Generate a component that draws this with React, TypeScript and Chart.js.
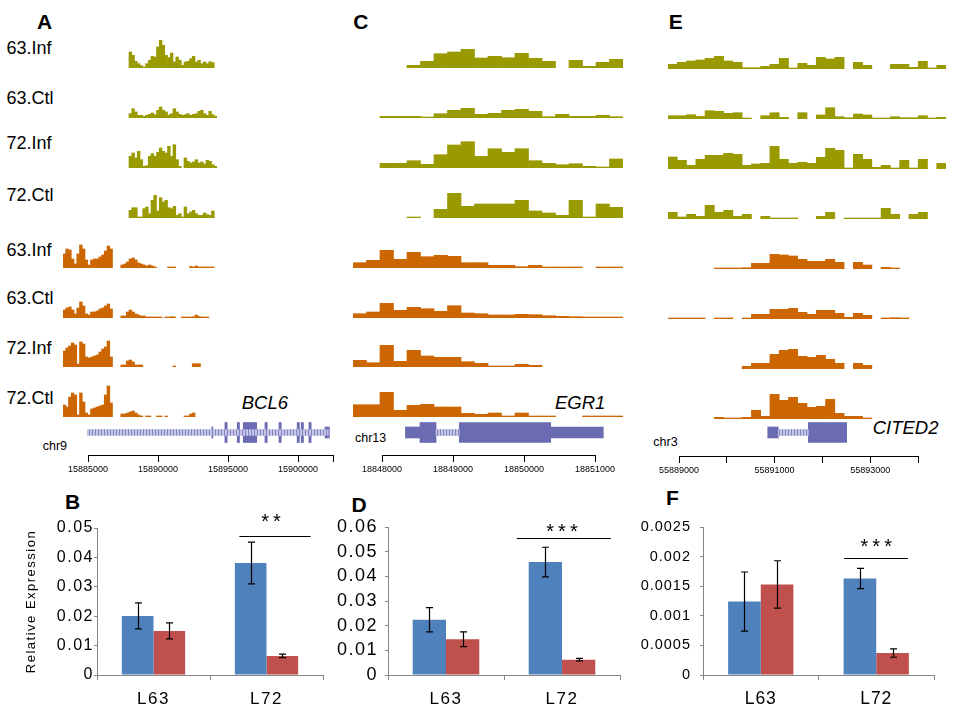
import React, { useEffect, useRef } from 'react';
import { Chart, registerables } from 'chart.js';

Chart.register(...registerables);

const FONT = "'Liberation Sans', Arial, Helvetica, sans-serif";
Chart.defaults.font.family = FONT;
Chart.defaults.color = '#000';

const N = null;

// ---------------- track data (coverage) ----------------
const trackLabels = ['63.Inf', '63.Ctl', '72.Inf', '72.Ctl', '63.Inf', '63.Ctl', '72.Inf', '72.Ctl'];

// Panel A (BCL6), 56 bins
const covA1 = [N,N,N,N,N,N,N,N,N,N,N,N,N,N,N,N,N,N,N,N,N,N,N,N, 16,12.7,6.7,4.3,2.3,1,4.3,7.7,11.7,11,21,27.7,22.7,12.7,10.3,15,6,11,7.7,2.7,6,6.7,9.3,11.7,6,7.7,4.3,6,4.3,6.3,5.3, N];
const covA2 = [N,N,N,N,N,N,N,N,N,N,N,N,N,N,N,N,N,N,N,N,N,N,N,N, 4.3,9.3,6,2.7,2.7,1.7,2.7,3.7,5,3.3,7.7,11,7.7,6,3,4.3,9.3,6,3.7,2.7,3.3,4.3,2.7,3.7,4.3,6.7,7.7,4.3,2.7,6.7,3.3,1.7];
const covA3 = [N,N,N,N,N,N,N,N,N,N,N,N,N,N,N,N,N,N,N,N,N,N,N,N, 11.7,15,10,16.7,8.3,1.7,2.3,11.7,14.3,11.7,15.7,20,16.7,15,21.7,11.7,23.3,8.3,1.7,N,10,6.7,5,6,8.3,5,6,4,7.7,6.7,3.3,1.7];
const covA4 = [N,N,N,N,N,N,N,N,N,N,N,N,N,N,N,N,N,N,N,N,N,N,N,N, 7.7,10.3,10.3,1,1,9.3,11,4.3,17.7,22.7,7,20.3,16,17.7,10.3,9.3,11.7,2.7,4.3,1,11,4.3,6,7.7,4.3,2.7,2.7,5,3.3,2.7,7, N];
const covA5 = [14,19,18,9,4,14,23,19,8,3,8,9,9,11,13,17,22,19, N,N,N, 3,4,6,9,10,8,5,4,3,2,3,2,1, N,N,N,N, 1,1,1, N,N,N,N,N, 1.5,1,2,1,0.7,0.7,0.7,0.7,0.7, N];
const covA6 = [8,10,11,8,4,10,16,12,4,3,6,6,7,9,10,12,14,9, N,N,N, 2,2,6,8,6,4,3,2,2,1,1,1,1, 0.7,0.7,N,0.7,1,1.3,0.7,N,N,0.7,0.7,1,1,1.3,3,1.5,0.7,1,0.5, N,N,N];
const covA7 = [16,19,21,24,22,3,25,23,10,9,10,11,12,15,18,20,26,10, N,N,N, 2,2,6,7,5,2,2,2, N,N,N,N,N,N,N,N,N,N,N, 1, N,N,N,N,N,N, 3.3,3.3,3.3, N,N,N,N,N,N];
const covA8 = [12,10,20,24,22,2,24,15,4,2,8,9,10,11,12,22,31,14, N,N,N, 3,3,4,5,6,4,2,1, N,0.7,0.7,N,N,0.7,0.7,N,0.7, N,N,N,N,N,N, 0.7,1,3,4, N,N,N,N,N,N,N,N];

// Panel C (EGR1), 20 bins
const covC1 = [N,N,N,N,2.7,6.7,14.3,16,18.7,10,11.7,10.3,14.7,9.7,6.7,N,7.7,1.7,5.7,8.7];
const covC2 = [N,N,1.7,1.7,1.7,0.7,4.3,7.7,9.7,3.7,4.7,7.7,8.7,6.7,1.3,3.7,1.7,1.7,2.7,1.3];
const covC3 = [N,N,4.7,4.7,7.3,3.7,13.3,23,26.3,11.7,19.3,15.7,19.3,7.3,4.7,3.3,4.3,1.7,0.3,9];
const covC4 = [N,N,N,N,0.7,N,8.7,24.7,11.7,14,14,14,17.7,7,5,2.7,17.7,1,14,10.7];
const covC5 = [5.3,7.7,17.7,8.7,15.7,11.3,12.7,11.7,5.3,5.3,2.7,2.7,1.3,2.7,0.3,0.3,0.3,N,0.7,0.7];
const covC6 = [4.3,6,14.7,7.7,10.7,9.3,6.7,12.3,5,4.3,3,3,3.7,3.3,2.3,1.7,1.3,0.7,0.3,0.3];
const covC7 = [6.7,4.3,21.7,5.7,16.7,11,9.7,9.7,5.3,3.7,1,1,2.7,1.7,N,N,N,N,N,N];
const covC8 = [12.3,12.3,24.7,6.7,11.7,12.7,10,10,3.7,2.7,4,1,4,1,0.7,N,N,0.7,0.7,0.7];

// Panel E (CITED2), 30 bins
const covE1 = [4.7,6.7,8,9,10.7,12.7,8,6.7,1.3,1.3,2.7,4.7,10.7,0.3,5.7,3.7,11.7,10,11.7,N,6.7,3.7,N,N,4.7,4.7,1.7,7.7,0.7,3.7];
const covE2 = [3.3,3.3,4.3,2.7,8.3,7.7,5.7,6.3,0.7,N,3.3,6.3,1.7,N,6.3,N,4,11.3,2.3,1.3,5,4,0.7,0.7,2.3,1.3,1.3,3.3,0.7,1.7];
const covE3 = [12,8.7,3.7,9.7,13.7,13.7,15.7,14.7,3.7,5,5.7,22.7,9.7,5.7,6.7,5.7,11.7,20.7,18.7,0.3,14.7,9.7,1.7,3.7,0.3,8.7,0.3,9.7,N,5.7];
const covE4 = [6.7,2,4.7,2.7,13.7,6.7,8.7,2.7,4.7,N,2.7,0.3,0.3,0.3,N,N,2.7,6.7,N,0.3,0.3,0.3,0.3,10.7,4.7,N,4.7,6.7,N,N];
const covE5 = [N,N,N,N,N,0.7,0.7,0.7,1.3,5.7,5.7,14.7,14,13,9.7,7.7,7.7,9.7,6.7,N,6.7,4,N,1.7,0.7,N,N,N,N,N];
const covE6 = [0.7,0.7,0.7,0.7,N,0.7,0.7,N,1,4.7,4.7,9.7,9.7,10.7,6.7,4.7,8.7,8.7,5.7,1.7,5.7,3.7,N,0.7,1.3,0.7,N,N,N,N];
const covE7 = [N,N,N,N,N,N,N,N,2.7,5.7,5.7,14.7,18.7,19.7,12.7,11.7,13.7,9.7,5.7,N,5.7,3.7,N,N,N,N,N,N,N,N];
const covE8 = [N,N,N,N,N,1.7,0.7,0.7,1.7,8.7,2.7,24.7,18.7,21.7,15.7,11.7,12.7,19.7,5.7,2.7,2.7,0.7,N,N,N,N,N,N,N,N];

// ---------------- gene models (genomic coordinates) ----------------
const geneA_intron = [[15884950, 15902160]];
const geneA_utr = [[15893840, 15893920], [15901930, 15902240]];
const geneA_cds = [[15894780, 15894940], [15895660, 15895820], [15896090, 15897050], [15897640, 15897800], [15898640, 15898800], [15899940, 15900100], [15900230, 15900390], [15900780, 15900940]];
const geneC_intron = [[18848761, 18849089]];
const geneC_utr = [[18848330, 18848535], [18850376, 18851117]];
const geneC_cds = [[18848535, 18848761], [18849089, 18850376]];
const geneE_intron = [[55891077, 55891705]];
const geneE_utr = [[55890856, 55891077]];
const geneE_cds = [[55891705, 55892508]];

// ---------------- genomic axes ----------------
const ticksA = [15885000, 15890000, 15895000, 15900000, 15902500];
const labelsA = [15885000, 15890000, 15895000, 15900000];
const ticksC = [18848000, 18849000, 18850000, 18851000];
const labelsC = [18848000, 18849000, 18850000, 18851000];
const ticksE = [55889000, 55890000, 55891000, 55892000, 55893000, 55894000];
const labelsE = [55889000, 55891000, 55893000];

// ---------------- qPCR bar data ----------------
const groups = ['L63', 'L72'];
const bInf = [0.0201, 0.0381];
const bInfErr = [0.0044, 0.0071];
const bCtl = [0.015, 0.0065];
const bCtlErr = [0.0027, 0.0006];
const dInf = [0.0224, 0.0458];
const dInfErr = [0.0049, 0.006];
const dCtl = [0.0145, 0.0062];
const dCtlErr = [0.003, 0.0005];
const fInf = [0.00124, 0.00163];
const fInfErr = [0.0005, 0.00017];
const fCtl = [0.00153, 0.00037];
const fCtlErr = [0.0004, 0.00007];
const sigB = { from: 0.76, to: 1.39, level: 0.0473, textAt: 1.04, textLevel: 0.0534, mark: '**' };
const sigD = { from: 0.61, to: 1.42, level: 0.0555, textAt: 1.0, textLevel: 0.0596, mark: '***' };
const sigF = { from: 0.72, to: 1.275, level: 0.00198, textAt: 1.0, textLevel: 0.00223, mark: '***' };

// ---------------- styles ----------------
const OLIVE = '#999900';
const ORANGE = '#cc6600';
const GENE = '#6b6bb3';
const BLUE = '#4f81bd';
const RED = '#c0504d';
const AXIS_GRAY = '#868686';
const TRACK_MAX = 50;

const spacingPlugin = {
  id: 'spacing',
  beforeUpdate(chart: any, _a: any, opts: any) { (chart.ctx as any).letterSpacing = (opts.px || 0) + 'px'; },
  beforeDraw(chart: any, _a: any, opts: any) { (chart.ctx as any).letterSpacing = (opts.px || 0) + 'px'; },
};

const errorBarPlugin = {
  id: 'errbars',
  afterDatasetsDraw(chart: any, _a: any, opts: any) {
    const { ctx } = chart;
    const ys = chart.scales.y;
    ctx.save();
    ctx.strokeStyle = '#000';
    ctx.lineWidth = 1.2;
    chart.data.datasets.forEach((ds: any, di: number) => {
      const errs = opts.errors[di];
      chart.getDatasetMeta(di).data.forEach((bar: any, i: number) => {
        const v = ds.data[i];
        const e = errs[i];
        const x = Math.round(bar.x) + 0.5;
        const yt = ys.getPixelForValue(v + e);
        const yb = ys.getPixelForValue(v - e);
        ctx.beginPath();
        ctx.moveTo(x, yt); ctx.lineTo(x, yb);
        ctx.moveTo(x - opts.cap, yt); ctx.lineTo(x + opts.cap, yt);
        ctx.moveTo(x - opts.cap, yb); ctx.lineTo(x + opts.cap, yb);
        ctx.stroke();
      });
    });
    ctx.restore();
  },
};

const sigPlugin = {
  id: 'sig',
  afterDraw(chart: any, _a: any, o: any) {
    const { ctx } = chart;
    const xs = chart.scales.x;
    const ys = chart.scales.y;
    const y = Math.round(ys.getPixelForValue(o.level)) + 0.5;
    ctx.save();
    ctx.strokeStyle = '#000';
    ctx.lineWidth = 1;
    ctx.beginPath();
    ctx.moveTo(xs.getPixelForValue(o.from), y);
    ctx.lineTo(xs.getPixelForValue(o.to), y);
    ctx.stroke();
    ctx.fillStyle = '#000';
    ctx.font = `${o.size}px ${FONT}`;
    (ctx as any).letterSpacing = '4px';
    ctx.textAlign = 'center';
    ctx.textBaseline = 'middle';
    ctx.fillText(o.mark, xs.getPixelForValue(o.textAt) + 2, ys.getPixelForValue(o.textLevel) + 0.24 * o.size);
    ctx.restore();
  },
};

function trackConfig(values: (number | null)[], color: string) {
  return {
    type: 'bar',
    data: {
      labels: values.map((_, i) => String(i)),
      datasets: [{ data: values, backgroundColor: color, borderWidth: 0, barPercentage: 1, categoryPercentage: 1, minBarLength: 1 }],
    },
    options: {
      animation: false, responsive: false, events: [],
      layout: { padding: 0 },
      plugins: { legend: { display: false }, tooltip: { enabled: false } },
      scales: { x: { display: false }, y: { display: false, min: 0, max: TRACK_MAX } },
    },
  };
}

function makeHatch(ctxOwner: HTMLCanvasElement) {
  const t = document.createElement('canvas');
  t.width = 3; t.height = 6;
  const c = t.getContext('2d')!;
  c.fillStyle = '#c4c4e6'; c.fillRect(0, 0, 3, 6);
  c.fillStyle = '#8585c4'; c.fillRect(0, 0, 1, 6);
  return ctxOwner.getContext('2d')!.createPattern(t, 'repeat');
}

function geneConfig(canvas: HTMLCanvasElement, intron: number[][], utr: number[][], cds: number[][], min: number, max: number) {
  const pts = (rs: number[][]) => rs.map((r) => ({ x: r, y: 'g' }));
  return {
    type: 'bar',
    data: {
      labels: ['g'],
      datasets: [
        { data: pts(intron), backgroundColor: makeHatch(canvas), barThickness: 6, grouped: false, borderWidth: 0 },
        { data: pts(utr), backgroundColor: GENE, barThickness: 11, grouped: false, borderWidth: 0 },
        { data: pts(cds), backgroundColor: GENE, barThickness: 20, grouped: false, borderWidth: 0 },
      ],
    },
    options: {
      indexAxis: 'y', animation: false, responsive: false, events: [],
      layout: { padding: 0 },
      plugins: { legend: { display: false }, tooltip: { enabled: false } },
      scales: {
        x: { type: 'linear', min, max, display: false },
        y: { type: 'category', labels: ['g'], display: false },
      },
    },
  };
}

function axisConfig(min: number, max: number, ticks: number[], labels: number[], pad: number, boxH: number) {
  return {
    type: 'scatter',
    data: { datasets: [] },
    options: {
      animation: false, responsive: false, events: [],
      layout: { padding: { left: pad, right: pad, top: 0, bottom: 0 } },
      plugins: { legend: { display: false }, tooltip: { enabled: false } },
      scales: {
        x: {
          type: 'linear', min, max, position: 'bottom',
          afterBuildTicks: (s: any) => { s.ticks = ticks.map((v) => ({ value: v })); },
          afterFit: (s: any) => { s.height = boxH; },
          ticks: { autoSkip: false, maxRotation: 0, font: { size: 9 }, color: '#000', padding: 2, callback: (v: any) => (labels.includes(Number(v)) ? String(v) : '') },
          grid: { drawOnChartArea: false, tickLength: 7, color: '#000', lineWidth: 1 },
          border: { display: true, color: '#000', width: 1 },
        },
        y: { display: false },
      },
    },
  };
}

function barConfig(p: any) {
  return {
    type: 'bar',
    data: {
      labels: groups,
      datasets: [
        { label: 'Inf', data: p.inf, backgroundColor: BLUE, borderWidth: 0, categoryPercentage: p.cp, barPercentage: 1 },
        { label: 'Ctl', data: p.ctl, backgroundColor: RED, borderWidth: 0, categoryPercentage: p.cp, barPercentage: 1 },
      ],
    },
    plugins: [spacingPlugin, errorBarPlugin, sigPlugin],
    options: {
      animation: false, responsive: false, events: [],
      layout: { padding: p.padding },
      plugins: {
        legend: { display: false }, tooltip: { enabled: false },
        spacing: { px: p.spacing },
        errbars: { errors: [p.infErr, p.ctlErr], cap: 3.5 },
        sig: { ...p.sig, size: 20 },
      },
      scales: {
        x: {
          grid: { offset: true, drawOnChartArea: false, tickLength: 5, color: AXIS_GRAY },
          border: { color: AXIS_GRAY },
          ticks: { font: { size: p.xFont }, padding: 9, color: '#000' },
          afterFit: (s: any) => { s.height = 45; },
        },
        y: {
          min: 0, max: p.max,
          ticks: { stepSize: p.step, font: { size: p.yFont }, padding: p.yPad, color: '#000', callback: (v: any) => String(Number(Number(v).toFixed(6))) },
          grid: { drawOnChartArea: false, tickLength: 3, color: AXIS_GRAY },
          border: { color: AXIS_GRAY },
          title: p.title ? { display: true, text: p.title, font: { size: 13 }, color: '#000', padding: { top: 4, bottom: 4 } } : { display: false },
          afterFit: (s: any) => { s.width = p.yWidth; },
        },
      },
    },
  };
}

// ---------------- components ----------------
function ChartCanvas(props: { make: (c: HTMLCanvasElement) => any; left: number; top: number; width: number; height: number }) {
  const ref = useRef<HTMLCanvasElement>(null);
  useEffect(() => {
    const canvas = ref.current!;
    const chart = new Chart(canvas, props.make(canvas));
    return () => chart.destroy();
  }, []);
  return (
    <canvas ref={ref} width={props.width} height={props.height}
      style={{ position: 'absolute', left: props.left, top: props.top, width: props.width, height: props.height }} />
  );
}

function Txt(props: { x: number; y: number; size: number; children: any; bold?: boolean; italic?: boolean; center?: boolean; spacing?: number }) {
  return (
    <div style={{
      position: 'absolute', left: props.x, top: props.y - props.size * 0.49, fontSize: props.size, lineHeight: 1,
      fontWeight: props.bold ? 'bold' : 'normal', fontStyle: props.italic ? 'italic' : 'normal', whiteSpace: 'nowrap',
      transform: props.center ? 'translateX(-50%)' : undefined, letterSpacing: props.spacing ? props.spacing + 'px' : undefined, color: '#000',
    }}>{props.children}</div>
  );
}

const baseAC = [68, 118, 168, 218, 268, 318, 367, 417];
const baseE = [69, 119, 169, 219, 269, 319, 369, 419];

const trackPanels = [
  { id: 'A', rows: [covA1, covA2, covA3, covA4, covA5, covA6, covA7, covA8], left: 63, width: 154, base: baseAC },
  { id: 'C', rows: [covC1, covC2, covC3, covC4, covC5, covC6, covC7, covC8], left: 353, width: 270, base: baseAC },
  { id: 'E', rows: [covE1, covE2, covE3, covE4, covE5, covE6, covE7, covE8], left: 668, width: 278, base: baseE },
];

const axes = [
  { id: 'A', min: 15885000, max: 15902500, left: 88, right: 333, lineY: 455, ticks: ticksA, labels: labelsA, gene: [geneA_intron, geneA_utr, geneA_cds] },
  { id: 'C', min: 18848000, max: 18851000, left: 382, right: 595, lineY: 455, ticks: ticksC, labels: labelsC, gene: [geneC_intron, geneC_utr, geneC_cds] },
  { id: 'E', min: 55889000, max: 55894000, left: 679, right: 918, lineY: 456, ticks: ticksE, labels: labelsE, gene: [geneE_intron, geneE_utr, geneE_cds] },
];

const rowLabelY = [47.8, 97.5, 142.5, 194.7, 250.3, 298.2, 347.5, 397.5];

export default function App() {
  useEffect(() => { document.body.style.margin = '0'; }, []);
  const AX_PAD = 30;
  const AX_BOX = 22;
  const GENE_PAD = 14;
  return (
    <div style={{ position: 'absolute', left: 0, top: 0, width: 960, height: 720, background: '#fff', fontFamily: FONT, overflow: 'hidden' }}>
      {/* panel letters */}
      <Txt x={44.7} y={20.8} size={21} bold center>A</Txt>
      <Txt x={360.8} y={20.8} size={21} bold center>C</Txt>
      <Txt x={675.8} y={20.8} size={21} bold center>E</Txt>
      <Txt x={72.5} y={501} size={21} bold center>B</Txt>
      <Txt x={359.2} y={504} size={21} bold center>D</Txt>
      <Txt x={672.5} y={497.5} size={21} bold center>F</Txt>

      {trackLabels.map((t, i) => (
        <Txt key={'rl' + i} x={6.5} y={rowLabelY[i]} size={18}>{t}</Txt>
      ))}

      <Txt x={241.7} y={403.3} size={18.5} italic>BCL6</Txt>
      <Txt x={555} y={403} size={18.5} italic>EGR1</Txt>
      <Txt x={872.7} y={427.8} size={18.5} italic>CITED2</Txt>
      <Txt x={42.7} y={446} size={12.5}>chr9</Txt>
      <Txt x={355} y={438.3} size={12.5}>chr13</Txt>
      <Txt x={653.3} y={442} size={12.5}>chr3</Txt>

      {trackPanels.flatMap((p) => p.rows.map((vals, r) => (
        <ChartCanvas key={p.id + r} make={() => trackConfig(vals, r < 4 ? OLIVE : ORANGE)}
          left={p.left} top={p.base[r] - TRACK_MAX} width={p.width} height={TRACK_MAX} />
      )))}

      {axes.map((a) => {
        const ppb = (a.right - a.left) / (a.max - a.min);
        const gMin = a.min - GENE_PAD / ppb;
        const gMax = a.max + GENE_PAD / ppb;
        return (
          <React.Fragment key={'ax' + a.id}>
            <ChartCanvas make={(c) => geneConfig(c, a.gene[0], a.gene[1], a.gene[2], gMin, gMax)}
              left={a.left - GENE_PAD} top={418} width={a.right - a.left + 2 * GENE_PAD} height={29} />
            <ChartCanvas make={() => axisConfig(a.min, a.max, a.ticks, a.labels, AX_PAD, AX_BOX)}
              left={a.left - AX_PAD} top={a.lineY - 2} width={a.right - a.left + 2 * AX_PAD} height={AX_BOX + 2} />
          </React.Fragment>
        );
      })}

      <ChartCanvas left={0} top={490} width={335} height={230} make={() => barConfig({
        inf: bInf, infErr: bInfErr, ctl: bCtl, ctlErr: bCtlErr, max: 0.05, step: 0.01, cp: 0.56,
        padding: { left: 20, right: 12, top: 38, bottom: 0 }, yWidth: 77, yFont: 16, yPad: 0, xFont: 17, spacing: 1.5,
        title: 'Relative Expression', sig: sigB,
      })} />
      <ChartCanvas left={330} top={490} width={300} height={230} make={() => barConfig({
        inf: dInf, infErr: dInfErr, ctl: dCtl, ctlErr: dCtlErr, max: 0.06, step: 0.01, cp: 0.574,
        padding: { left: 0, right: 10, top: 37, bottom: 0 }, yWidth: 58, yFont: 18, yPad: 7, xFont: 17, spacing: 1.5,
        sig: sigD,
      })} />
      <ChartCanvas left={636} top={490} width={310} height={230} make={() => barConfig({
        inf: fInf, infErr: fInfErr, ctl: fCtl, ctlErr: fCtlErr, max: 0.0025, step: 0.0005, cp: 0.565,
        padding: { left: 0, right: 12, top: 37, bottom: 0 }, yWidth: 67, yFont: 14.5, yPad: 9, xFont: 17.5, spacing: 1,
        sig: sigF,
      })} />
    </div>
  );
}
